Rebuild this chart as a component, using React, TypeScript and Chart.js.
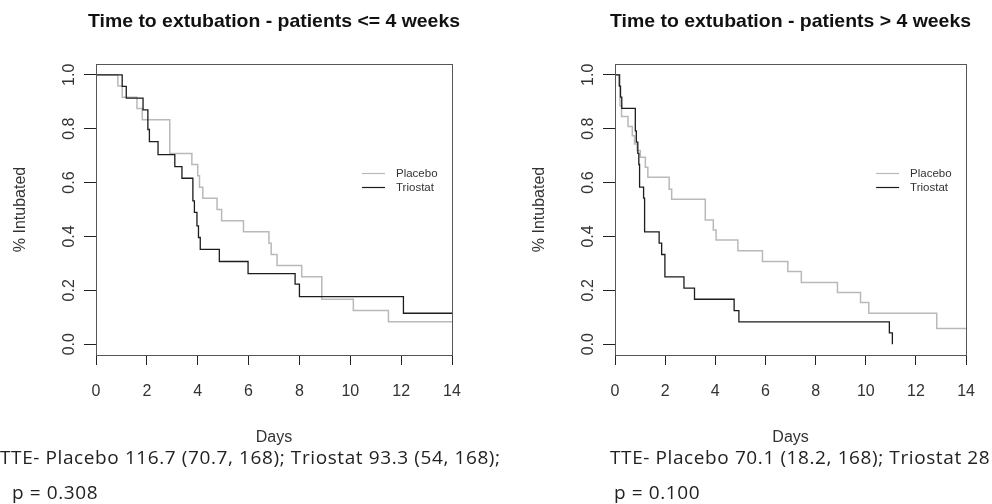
import React, { useEffect, useRef } from "react";
import { Chart, registerables } from "chart.js";
Chart.register(...registerables);

// ---------- data ----------
const xTicks = [0, 2, 4, 6, 8, 10, 12, 14];
const yTicks = [0, 0.2, 0.4, 0.6, 0.8, 1.0];
const yTickLabels = ["0.0", "0.2", "0.4", "0.6", "0.8", "1.0"];
const seriesNames = ["Placebo", "Triostat"];
const xAxisTitle = "Days";
const yAxisTitle = "% Intubated";
const leftTitle = "Time to extubation - patients <= 4 weeks";
const rightTitle = "Time to extubation - patients > 4 weeks";

// Left panel (<= 4 weeks)
const leftPlaceboDays = [0, 0.86, 1.03, 1.61, 1.82, 2.9, 3.77, 4.0, 4.07, 4.2, 4.76, 4.94, 5.8, 6.8, 6.89, 7.12, 8.09, 8.88, 10.12, 11.5, 14];
const leftPlaceboSurv = [1, 0.958, 0.917, 0.875, 0.833, 0.708, 0.667, 0.625, 0.583, 0.542, 0.5, 0.458, 0.417, 0.375, 0.333, 0.292, 0.25, 0.167, 0.125, 0.083, 0.083];
const leftTriostatDays = [0, 1.03, 1.19, 1.85, 2.04, 2.1, 2.44, 3.1, 3.38, 3.81, 3.87, 3.97, 4.03, 4.1, 4.85, 5.98, 7.83, 8.0, 12.09, 14];
const leftTriostatSurv = [1, 0.957, 0.913, 0.87, 0.797, 0.752, 0.704, 0.659, 0.616, 0.532, 0.489, 0.439, 0.396, 0.352, 0.307, 0.262, 0.223, 0.177, 0.115, 0.115];

// Right panel (> 4 weeks)
const rightPlaceboDays = [0, 0.2, 0.26, 0.52, 0.69, 0.78, 0.88, 1.01, 1.21, 1.31, 2.16, 2.26, 3.6, 3.92, 4.03, 4.9, 5.88, 6.89, 7.43, 8.87, 9.79, 10.12, 12.83, 14];
const rightPlaceboSurv = [1, 0.885, 0.845, 0.808, 0.774, 0.743, 0.719, 0.694, 0.657, 0.62, 0.575, 0.538, 0.461, 0.424, 0.387, 0.347, 0.307, 0.27, 0.229, 0.192, 0.155, 0.115, 0.058, 0.058];
const rightTriostatDays = [0, 0.17, 0.22, 0.27, 0.81, 0.85, 0.91, 0.95, 0.98, 1.14, 1.18, 1.76, 1.86, 1.99, 2.75, 3.17, 4.75, 4.94, 10.94, 11.06];
const rightTriostatSurv = [1, 0.958, 0.917, 0.875, 0.792, 0.75, 0.708, 0.667, 0.583, 0.542, 0.417, 0.375, 0.333, 0.25, 0.208, 0.167, 0.125, 0.083, 0.042, 0];

const leftNote1 = "TTE- Placebo 116.7 (70.7, 168); Triostat 93.3 (54, 168);";
const leftNote2 = "p = 0.308";
const rightNote1 = "TTE- Placebo 70.1 (18.2, 168); Triostat 28";
const rightNote2 = "p = 0.100";

// ---------- styling ----------
const PLACEBO_COLOR = "#b9b9b9";
const TRIOSTAT_COLOR = "#1c1c1c";
const AXIS_FONT = '"Liberation Sans", Arial, sans-serif';

const toPoints = (xs: number[], ys: number[]) => xs.map((x, i) => ({ x, y: ys[i] }));

const decorPlugin = {
  id: "decor",
  afterDraw(chart: any, _args: any, opts: any) {
    const { ctx, chartArea: a, scales } = chart;
    ctx.save();
    // box
    ctx.strokeStyle = "#555";
    ctx.lineWidth = 1;
    ctx.strokeRect(Math.round(a.left) + 0.5, Math.round(a.top) + 0.5, Math.round(a.right - a.left), Math.round(a.bottom - a.top));
    // rotated y tick labels
    const ys = scales.y;
    ctx.fillStyle = "#333";
    ctx.font = "16px " + AXIS_FONT;
    ctx.textAlign = "center";
    ctx.textBaseline = "middle";
    ys.ticks.forEach((t: any) => {
      const idx = yTicks.indexOf(t.value);
      const py = ys.getPixelForValue(t.value);
      ctx.save();
      ctx.translate(a.left - 26, py);
      ctx.rotate(-Math.PI / 2);
      ctx.fillText(idx >= 0 ? yTickLabels[idx] : String(t.value), 0, 0);
      ctx.restore();
    });
    // legend
    ctx.font = "11.5px " + AXIS_FONT;
    ctx.textAlign = "left";
    chart.data.datasets.forEach((ds: any, i: number) => {
      const ly = Math.round(a.top + 109 + i * 14) + 0.5;
      ctx.strokeStyle = ds.borderColor;
      ctx.lineWidth = 1.2;
      ctx.beginPath();
      ctx.moveTo(a.right - 90, ly);
      ctx.lineTo(a.right - 67, ly);
      ctx.stroke();
      ctx.fillStyle = "#333";
      ctx.fillText(ds.label, a.right - 56, ly);
    });
    // title centred over the plot box
    ctx.font = "bold 19px " + AXIS_FONT;
    ctx.fillStyle = "#111";
    ctx.textAlign = "center";
    ctx.textBaseline = "alphabetic";
    const w = ctx.measureText(opts.text).width;
    ctx.translate((a.left + a.right) / 2, opts.baseline);
    ctx.scale(opts.width / w, 1);
    ctx.fillText(opts.text, 0, 0);
    ctx.restore();
  },
};

function makeConfig(title: string, titleW: number, padRight: number, pDays: number[], pSurv: number[], tDays: number[], tSurv: number[]): any {
  return {
    type: "line",
    data: {
      datasets: [
        { label: seriesNames[0], data: toPoints(pDays, pSurv), borderColor: PLACEBO_COLOR, borderWidth: 1.5, pointRadius: 0, stepped: "before", order: 2, fill: false },
        { label: seriesNames[1], data: toPoints(tDays, tSurv), borderColor: TRIOSTAT_COLOR, borderWidth: 1.3, pointRadius: 0, stepped: "before", order: 1, fill: false },
      ],
    },
    options: {
      responsive: false,
      animation: false,
      devicePixelRatio: 1,
      layout: { padding: { left: 0, top: 64, right: padRight, bottom: 0 } },
      plugins: {
        legend: { display: false },
        tooltip: { enabled: false },
        title: { display: false },
        decor: { text: title, baseline: 27, width: titleW },
      },
      scales: {
        x: {
          type: "linear",
          min: 0,
          max: 14,
          afterBuildTicks: (s: any) => { s.ticks = xTicks.map((v) => ({ value: v })); },
          afterFit: (s: any) => { s.height = 149; },
          grid: { drawOnChartArea: false, drawTicks: true, tickLength: 10, color: "#222", lineWidth: 1 },
          border: { display: false },
          ticks: { color: "#333", font: { family: AXIS_FONT, size: 16 }, padding: 17, maxRotation: 0, autoSkip: false, callback: (v: any) => String(v) },
          title: { display: true, text: xAxisTitle, color: "#333", font: { family: AXIS_FONT, size: 16 }, padding: { top: 0, bottom: 57 } },
        },
        y: {
          type: "linear",
          min: -0.04,
          max: 1.04,
          afterBuildTicks: (s: any) => { s.ticks = yTicks.map((v) => ({ value: v })); },
          afterFit: (s: any) => { s.width = 96; },
          grid: { drawOnChartArea: false, drawTicks: true, tickLength: 12, color: "#222", lineWidth: 1 },
          border: { display: false },
          ticks: { display: false },
          title: { display: true, text: yAxisTitle, color: "#333", font: { family: AXIS_FONT, size: 16 }, padding: { top: 11, bottom: 0 } },
        },
      },
    },
    plugins: [decorPlugin],
  };
}

export default function App() {
  const leftRef = useRef<HTMLCanvasElement>(null);
  const rightRef = useRef<HTMLCanvasElement>(null);

  useEffect(() => {
    const c1 = new Chart(leftRef.current as HTMLCanvasElement, makeConfig(leftTitle, 372, 44, leftPlaceboDays, leftPlaceboSurv, leftTriostatDays, leftTriostatSurv));
    const c2 = new Chart(rightRef.current as HTMLCanvasElement, makeConfig(rightTitle, 361, 20, rightPlaceboDays, rightPlaceboSurv, rightTriostatDays, rightTriostatSurv));
    return () => { c1.destroy(); c2.destroy(); };
  }, []);

  const noteStyle: React.CSSProperties = {
    position: "absolute",
    font: '19px "Open Sans", "Liberation Sans", sans-serif',
    letterSpacing: "0.6px",
    lineHeight: "22px",
    whiteSpace: "nowrap",
    color: "#222",
  };

  return (
    <div style={{ position: "absolute", left: 0, top: 0, width: 992, height: 504, overflow: "hidden", background: "#fff" }}>
      <canvas ref={leftRef} width={496} height={504} style={{ position: "absolute", left: 0, top: 0, display: "block" }} />
      <canvas ref={rightRef} width={473} height={504} style={{ position: "absolute", left: 519, top: 0, display: "block" }} />
      <div style={{ ...noteStyle, left: 0, top: 446 }}>{leftNote1}</div>
      <div style={{ ...noteStyle, left: 12, top: 481 }}>{leftNote2}</div>
      <div style={{ ...noteStyle, left: 610, top: 446 }}>{rightNote1}</div>
      <div style={{ ...noteStyle, left: 614, top: 481 }}>{rightNote2}</div>
    </div>
  );
}
